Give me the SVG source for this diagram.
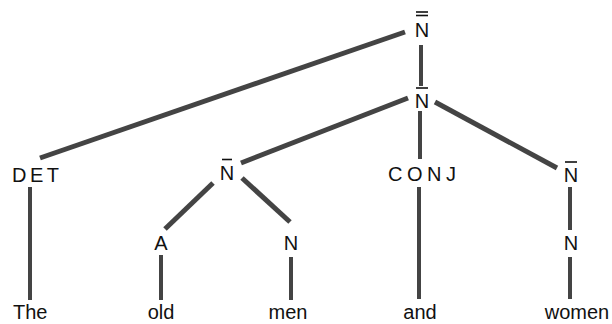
<svg xmlns="http://www.w3.org/2000/svg" width="612" height="324" viewBox="0 0 612 324">
<style>
.lbl{font-family:"Liberation Sans",Arial,sans-serif;font-size:20px;fill:#111;}
.mid{text-anchor:middle;}
.edge{stroke:#444;stroke-width:5;stroke-linecap:butt;fill:none;}
.v{stroke-width:4;}
.bar{stroke:#111;stroke-width:1.6;}
</style>
<rect width="612" height="324" fill="#fff"/>
<g id="connectors">
<line class="edge" x1="40" y1="158" x2="405" y2="32"/>
<line class="edge v" x1="421" y1="45" x2="421" y2="86"/>
<line class="edge" x1="241" y1="163" x2="408" y2="98"/>
<line class="edge v" x1="420" y1="111" x2="420" y2="159"/>
<line class="edge" x1="435" y1="102" x2="557" y2="168"/>
<line class="edge v" x1="30" y1="187" x2="30" y2="300"/>
<line class="edge" x1="165" y1="229" x2="213" y2="183"/>
<line class="edge" x1="242" y1="178" x2="290" y2="222"/>
<line class="edge v" x1="161" y1="255" x2="161" y2="300"/>
<line class="edge v" x1="291" y1="257" x2="291" y2="300"/>
<line class="edge v" x1="419" y1="187" x2="419" y2="299"/>
<line class="edge v" x1="570" y1="187" x2="570" y2="230"/>
<line class="edge v" x1="570" y1="257" x2="570" y2="299"/>
</g>
<g id="n-top">
<line class="bar" x1="416" y1="12" x2="428" y2="12"/>
<line class="bar" x1="416" y1="15.5" x2="428" y2="15.5"/>
<text class="lbl mid" x="422" y="37">N</text>
</g>
<g id="n-coord">
<line class="bar" x1="416" y1="88" x2="428" y2="88"/>
<text class="lbl mid" x="422" y="108">N</text>
</g>
<g id="det">
<text class="lbl" x="12" y="182" letter-spacing="3.5">DET</text>
</g>
<g id="n-left">
<line class="bar" x1="222" y1="159.5" x2="232" y2="159.5"/>
<text class="lbl mid" x="227" y="180">N</text>
</g>
<g id="conj">
<text class="lbl" x="388" y="181" letter-spacing="4.5">CONJ</text>
</g>
<g id="n-right">
<line class="bar" x1="565" y1="162" x2="577" y2="162"/>
<text class="lbl mid" x="571" y="182">N</text>
</g>
<g id="a">
<text class="lbl mid" x="161" y="250">A</text>
</g>
<g id="n-men">
<text class="lbl mid" x="291" y="250">N</text>
</g>
<g id="n-women">
<text class="lbl mid" x="571" y="250">N</text>
</g>
<g id="w-the"><text class="lbl" x="13" y="319">The</text></g>
<g id="w-old"><text class="lbl mid" x="161" y="319">old</text></g>
<g id="w-men"><text class="lbl mid" x="288" y="319">men</text></g>
<g id="w-and"><text class="lbl mid" x="420" y="319">and</text></g>
<g id="w-women"><text class="lbl mid" x="577" y="319">women</text></g>
</svg>
